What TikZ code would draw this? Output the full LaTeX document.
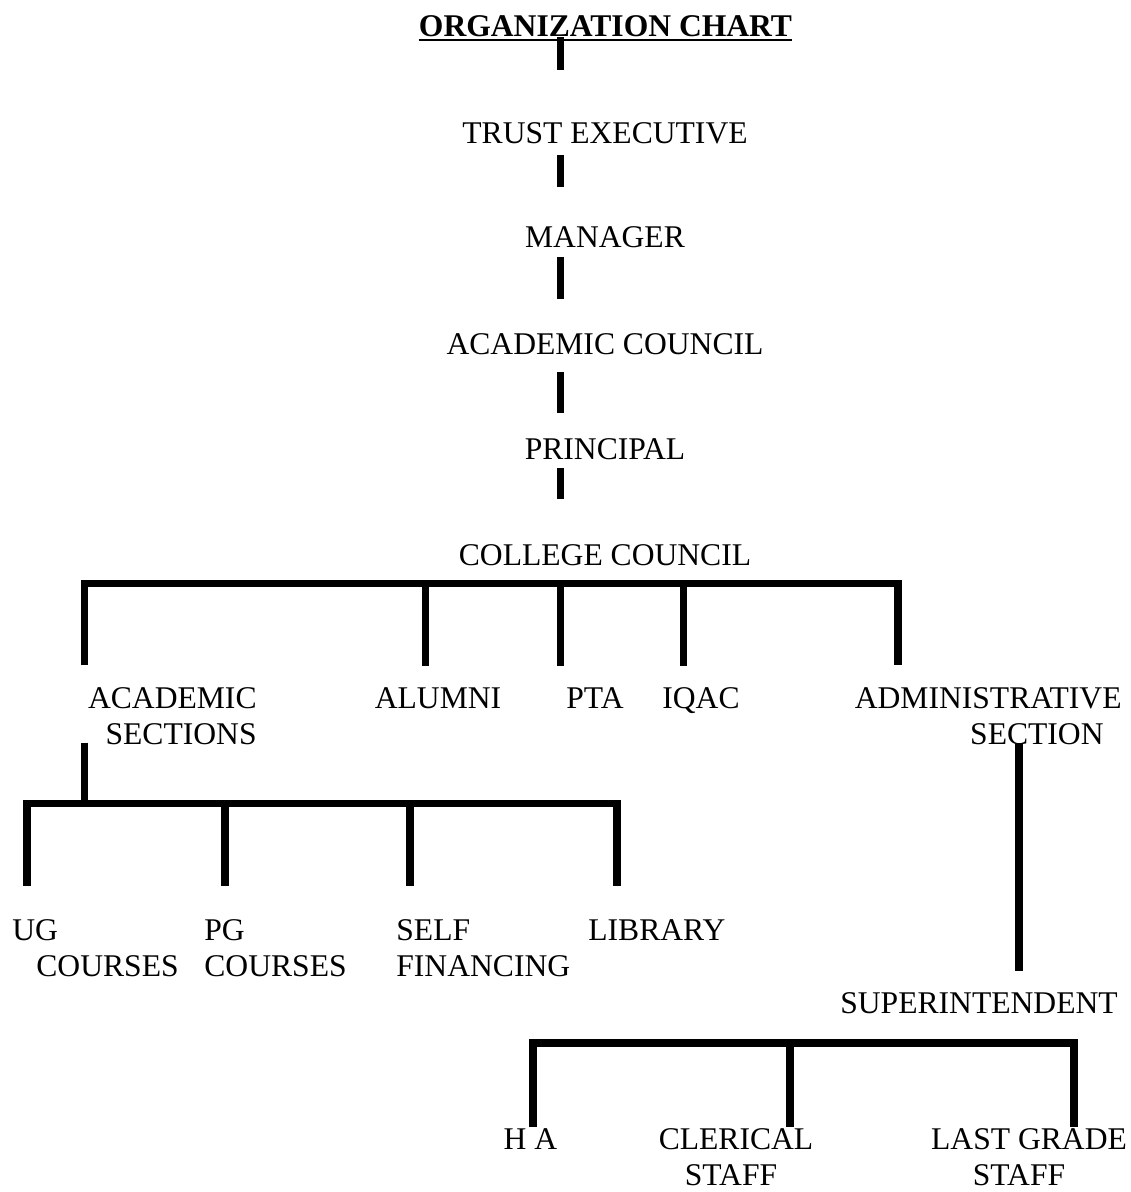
\documentclass[tikz,border=0pt]{standalone}
\usepackage{fontspec}
\setmainfont{Liberation Serif}
\tikzset{
  lbl/.style={inner sep=0pt, font=\fontsize{15.8pt}{18pt}\selectfont},
  link/.style={line width=3.6pt},
}
\begin{document}
\begin{tikzpicture}[x=0.5pt, y=-0.5pt]
  \useasboundingbox (0,0) rectangle (1130,1192);
  \coordinate (spine) at (560.5,0);

  % top of the chart
  \node[lbl, anchor=base, font=\fontsize{15.8pt}{18pt}\selectfont\bfseries] (title) at (605.5,37) {ORGANIZATION CHART};
  \draw[line width=1pt] ([yshift=-1.6pt]title.base west) -- ([yshift=-1.6pt]title.base east);
  \node[lbl, anchor=base] (trust)     at (605,144) {TRUST EXECUTIVE};
  \node[lbl, anchor=base] (manager)   at (605,248) {MANAGER};
  \node[lbl, anchor=base] (council)   at (605,354) {ACADEMIC COUNCIL};
  \node[lbl, anchor=base] (principal) at (605,459) {PRINCIPAL};
  \node[lbl, anchor=base] (college)   at (605,565) {COLLEGE COUNCIL};

  \foreach \a/\b/\s/\e in {title/trust/0/37, trust/manager/5.5/30.5, manager/council/4.5/27.5,
                           council/principal/9/23, principal/college/4.5/33}
    \draw[link, shorten <=\s pt, shorten >=\e pt] (\a.base -| spine) -- (\b.base -| spine);

  % sections (two-line labels sit on the base of their last line)
  \node[lbl, anchor=base east, align=right] (academic) at (257,744) {ACADEMIC\\SECTIONS};
  \node[lbl, anchor=base] (alumni) at (438,708) {ALUMNI};
  \node[lbl, anchor=base] (pta)    at (595,708) {PTA};
  \node[lbl, anchor=base] (iqac)   at (701,708) {IQAC};
  \node[lbl, anchor=base east, align=right] (admin) at (1122,744) {ADMINISTRATIVE\\SECTION\hspace*{9pt}};

  \coordinate (collegebar) at (560.5,583.5);
  \draw[link, shorten <=39.5pt, shorten >=39.5pt] (academic.base -| 84.5,0) |- (collegebar) -| (admin.base -| 898,0);
  \foreach \x/\n in {425.5/alumni, 560.5/pta, 683.5/iqac}
    \draw[link, shorten >=21pt] (collegebar -| \x,0) -- (\n.base -| \x,0);

  % academic side
  \node[lbl, anchor=base west, align=left] (ug)   at (12,976)  {UG\\\hspace*{12pt}COURSES};
  \node[lbl, anchor=base west, align=left] (pg)   at (204,976) {PG\\COURSES};
  \node[lbl, anchor=base west, align=left] (self) at (396,976) {SELF\\FINANCING};
  \node[lbl, anchor=base west] (library) at (588,940) {LIBRARY};

  \coordinate (acadbar) at (84.5,803.5);
  \draw[link, shorten <=-1pt] (academic.south -| acadbar) -- (acadbar);
  \draw[link, shorten <=45pt, shorten >=27pt] (ug.base -| 27,0) |- (acadbar) -| (library.base -| 617,0);
  \foreach \x/\n in {225/pg, 410/self}
    \draw[link, shorten >=45pt] (acadbar -| \x,0) -- (\n.base -| \x,0);

  % administrative side
  \node[lbl, anchor=base] (super) at (979,1013) {SUPERINTENDENT};
  \draw[link, shorten <=-1pt, shorten >=21pt] (admin.south -| 1019,0) -- (super.base -| 1019,0);

  \node[lbl, anchor=base] (ha) at (530.5,1149) {H A};
  \node[lbl, anchor=base, align=center] (clerical)  at (736,1185)  {CLERICAL\\STAFF\hspace*{5pt}};
  \node[lbl, anchor=base, align=center] (lastgrade) at (1029,1185) {LAST GRADE\\STAFF\hspace*{10pt}};

  \coordinate (superbar) at (790,1043);
  \draw[link, shorten <=11pt, shorten >=29pt] (ha.base -| 533,0) |- (superbar) -| (lastgrade.base -| 1074,0);
  \draw[link, shorten >=29pt] (superbar) -- (clerical.base -| superbar);
\end{tikzpicture}
\end{document}
